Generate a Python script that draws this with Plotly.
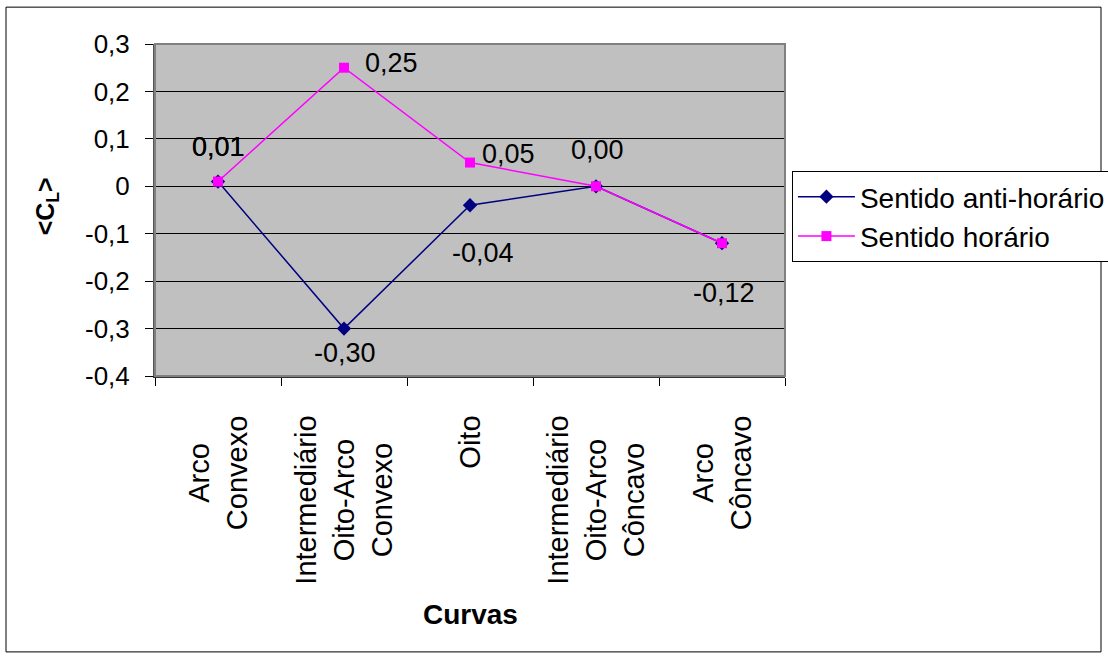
import plotly.graph_objects as go

# Curve categories (two-line labels) and mean lift coefficient per rotation sense
categorias = ["Arco<br>Convexo", "Intermediário<br>Oito-Arco<br>Convexo", "Oito",
              "Intermediário<br>Oito-Arco<br>Côncavo", "Arco<br>Côncavo"]
anti_horario = [0.01, -0.30, -0.04, 0.00, -0.12]
horario = [0.01, 0.25, 0.05, 0.00, -0.12]

y_ticks = [-0.4, -0.3, -0.2, -0.1, 0.0, 0.1, 0.2, 0.3]
y_tick_text = ["-0,4", "-0,3", "-0,2", "-0,1", "0", "0,1", "0,2", "0,3"]

FONT = "Liberation Sans, Arial, sans-serif"
x_idx = list(range(len(categorias)))


def rotulo(v):
    return f"{v:.2f}".replace(".", ",")


fig = go.Figure()
fig.add_trace(go.Scatter(
    x=x_idx, y=anti_horario, mode="lines+markers", name="Sentido anti-horário",
    line=dict(color="#000080", width=1.5),
    marker=dict(symbol="diamond", size=11, color="#000080"),
))
fig.add_trace(go.Scatter(
    x=x_idx, y=horario, mode="lines+markers", name="Sentido horário",
    line=dict(color="#FF00FF", width=1.5),
    marker=dict(symbol="square", size=10, color="#FF00FF"),
))

# data labels: (series, index, x shift px, y shift px)
label_specs = [
    (anti_horario, 0, 0, 35), (horario, 0, 0, 35),
    (horario, 1, 47, 5), (horario, 2, 38, 9),
    (anti_horario, 1, 1, -24), (anti_horario, 2, 13, -48),
    (anti_horario, 3, 1, 36), (anti_horario, 4, 2, -50),
]
annotations = []
for serie, i, dx, dy in label_specs:
    annotations.append(dict(
        x=x_idx[i], y=serie[i], xref="x", yref="y", text=rotulo(serie[i]),
        showarrow=False, xshift=dx, yshift=dy,
        font=dict(family=FONT, size=27, color="black"),
    ))

# rotated category labels under the axis
for i, cat in enumerate(categorias):
    annotations.append(dict(
        x=x_idx[i], y=-0.115, xref="x", yref="paper", text=cat,
        showarrow=False, textangle=-90, align="center",
        xanchor="center", yanchor="top",
        font=dict(family=FONT, size=29, color="black"),
    ))

# axis titles
annotations.append(dict(
    x=0.5, y=-0.718, xref="paper", yref="paper", text="<b>Curvas</b>",
    showarrow=False, xanchor="center", yanchor="middle",
    font=dict(family=FONT, size=28, color="black"),
))
annotations.append(dict(
    x=-0.172, y=0.51, xref="paper", yref="paper", text="<b>&lt;C<sub>L</sub>&gt;</b>",
    showarrow=False, textangle=-90, xanchor="center", yanchor="middle",
    font=dict(family=FONT, size=25, color="black"),
))

shapes = [
    # plot area frame
    dict(type="rect", xref="paper", yref="paper", x0=0, y0=0, x1=1, y1=1,
         line=dict(color="#808080", width=2), layer="above"),
    # outer chart border
    dict(type="rect", xref="paper", yref="paper", x0=-0.2365, y0=-0.831,
         x1=1.5016, y1=1.111, line=dict(color="black", width=1)),
]

fig.update_layout(
    width=1108, height=659,
    margin=dict(l=155, r=323, t=44, b=283, autoexpand=False),
    paper_bgcolor="white", plot_bgcolor="#C0C0C0",
    font=dict(family=FONT, size=26, color="black"),
    showlegend=True,
    legend=dict(
        x=1.011, y=0.6175, xanchor="left", yanchor="top",
        bordercolor="black", borderwidth=1, bgcolor="white",
        font=dict(family=FONT, size=28, color="black"),
        tracegroupgap=0, itemwidth=57,
    ),
    annotations=annotations,
    shapes=shapes,
)
fig.update_xaxes(
    type="linear", range=[-0.5, 4.5], tickvals=[-0.5, 0.5, 1.5, 2.5, 3.5, 4.5],
    showticklabels=False, ticks="outside", ticklen=8, tickcolor="black",
    showgrid=False, zeroline=False, showline=True, linecolor="#333333", linewidth=2,
)
fig.update_yaxes(
    range=[-0.4, 0.3], tickvals=y_ticks, ticktext=y_tick_text,
    ticks="outside", ticklen=8, tickcolor="black", ticklabelstandoff=10,
    showgrid=True, gridcolor="black", gridwidth=1, zeroline=False,
    showline=True, linecolor="#555555", linewidth=2,
    tickfont=dict(family=FONT, size=26, color="black"),
)

fig.write_html("out.html")
